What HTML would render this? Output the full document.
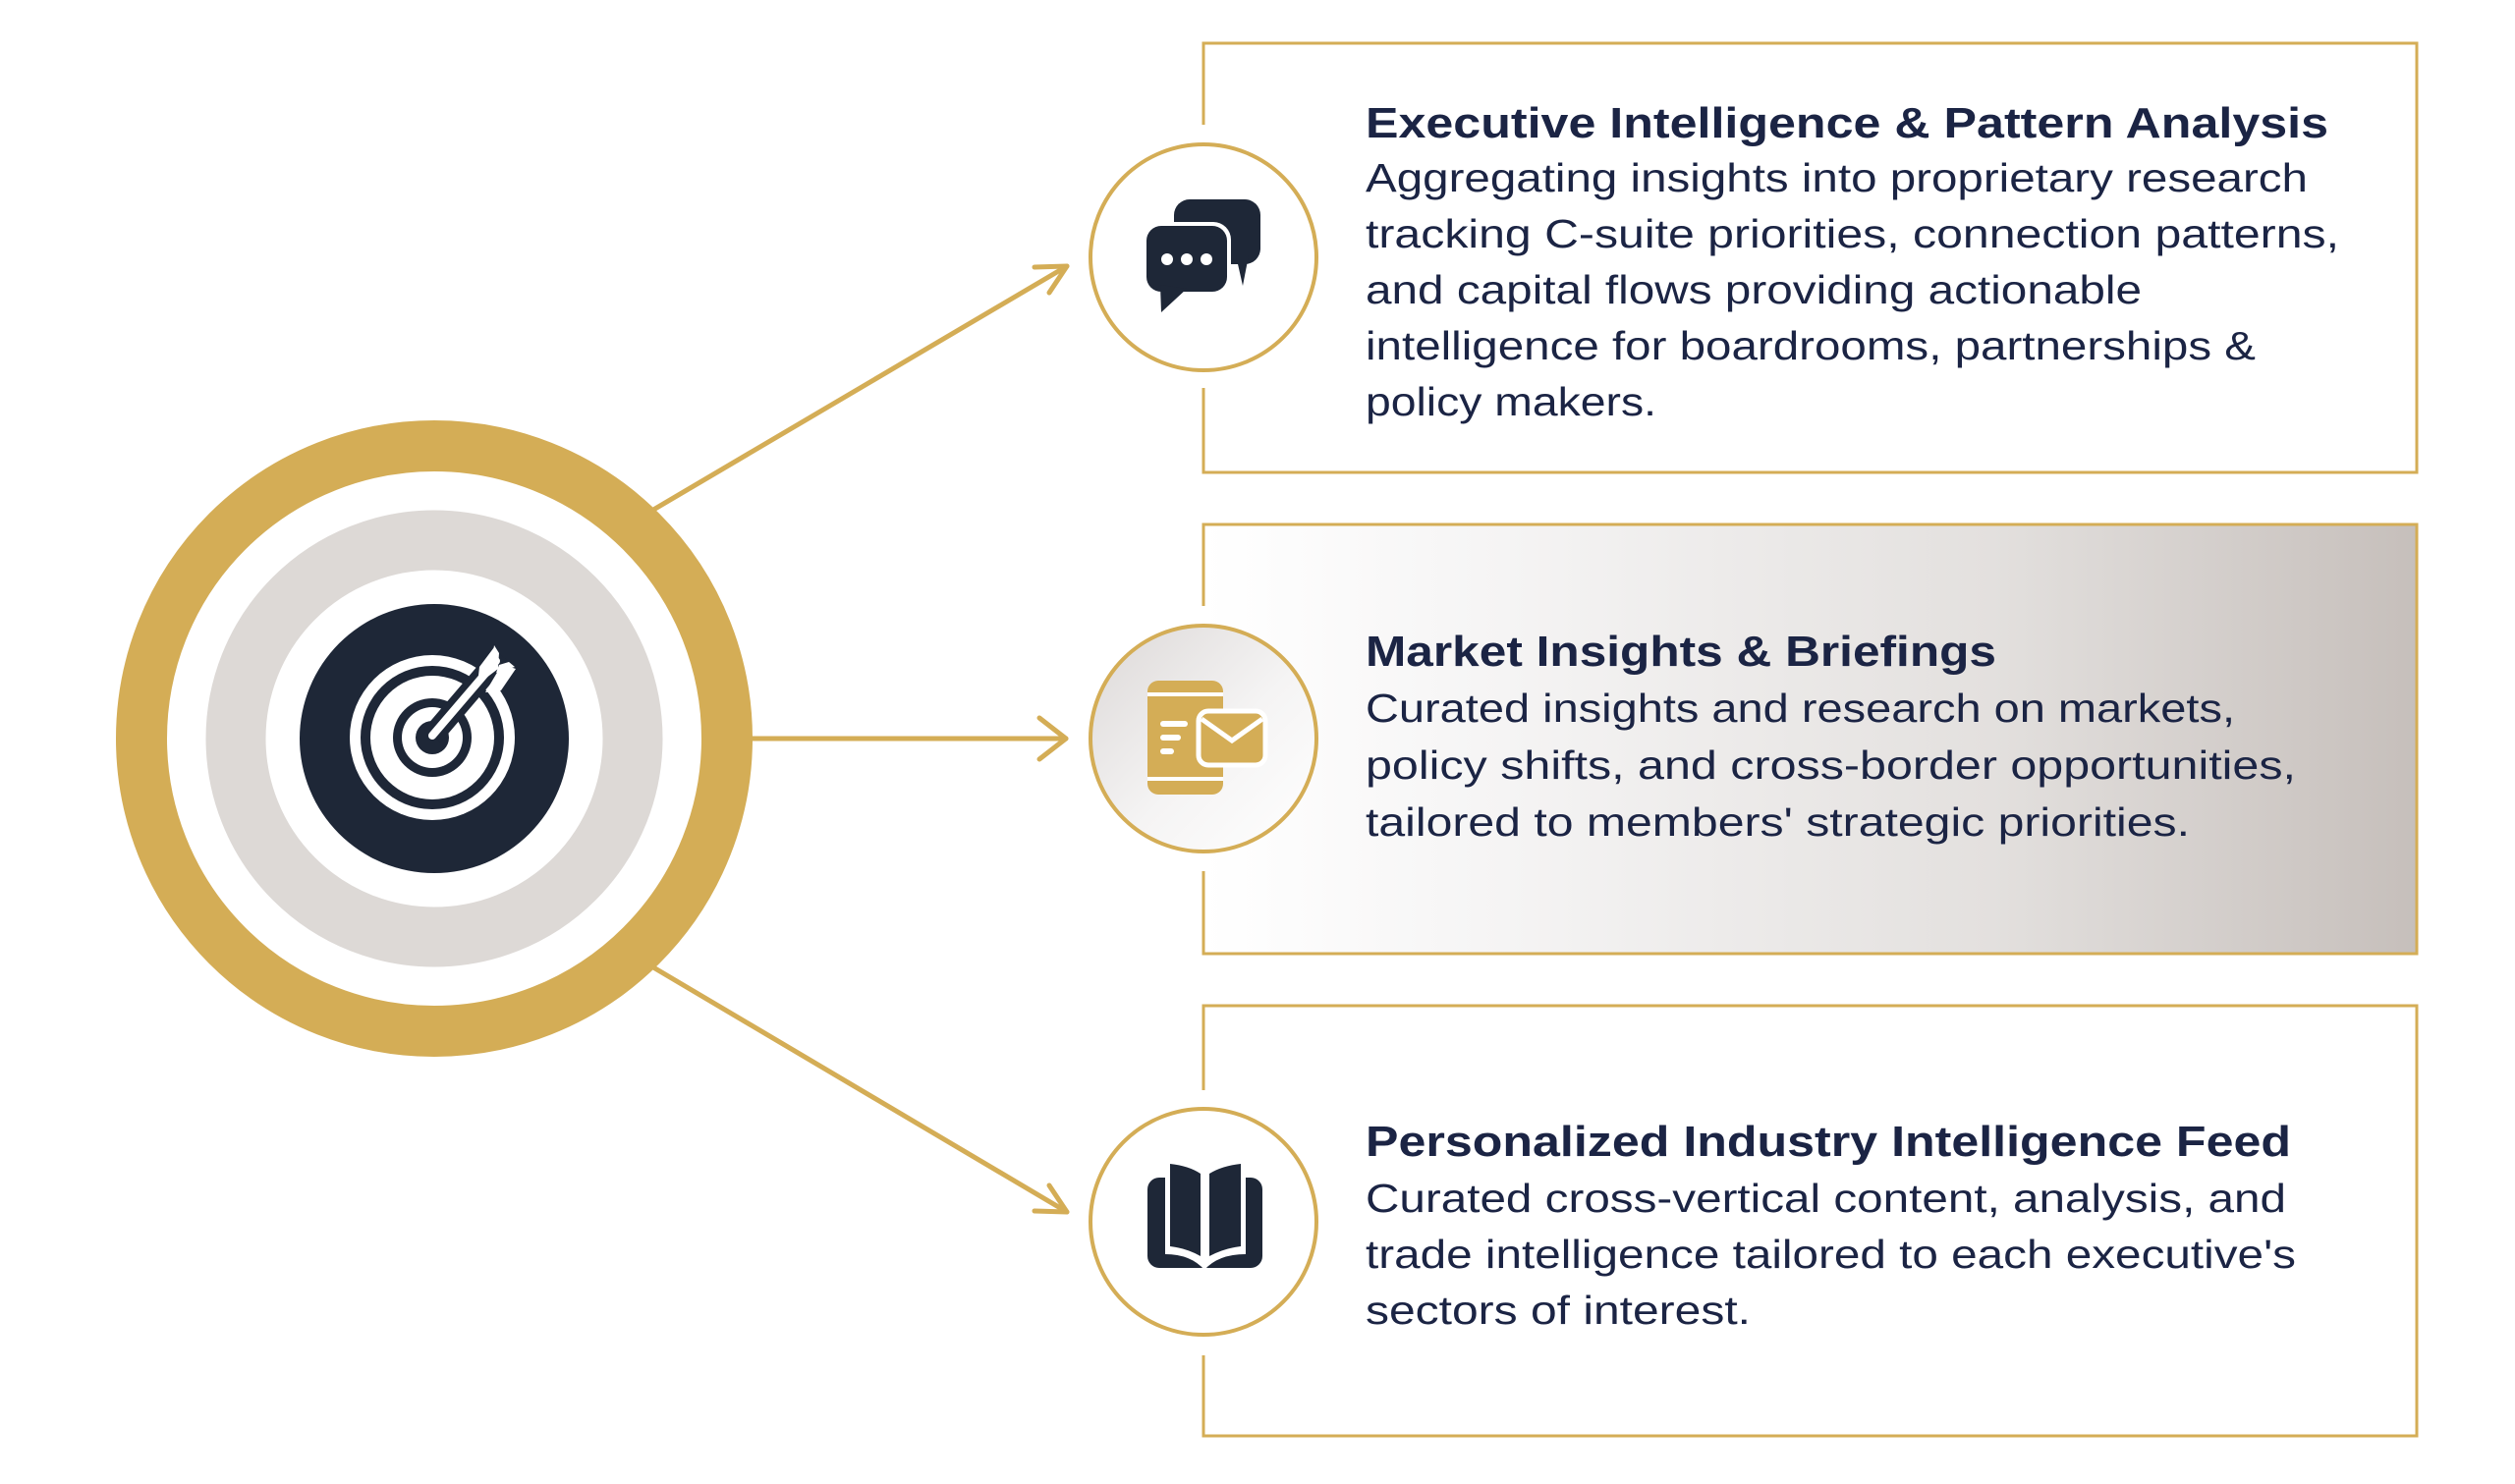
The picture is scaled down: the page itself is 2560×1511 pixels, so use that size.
<!DOCTYPE html>
<html><head><meta charset="utf-8"><style>
html,body{margin:0;padding:0;background:#fff;}
svg{display:block;}
text{font-family:"Liberation Sans",sans-serif;fill:#1b2444;}
.t{font-weight:bold;font-size:44px;}
.b{font-size:41px;}
</style></head><body>
<svg width="2560" height="1511" viewBox="0 0 2560 1511" xmlns="http://www.w3.org/2000/svg">
<defs>
<linearGradient id="bg2" x1="0" y1="0" x2="1" y2="0">
<stop offset="0" stop-color="#ffffff"/>
<stop offset="0.25" stop-color="#f5f4f4"/>
<stop offset="0.65" stop-color="#e3e0de"/>
<stop offset="1" stop-color="#c6bfbb"/>
</linearGradient>
<linearGradient id="cg2" x1="0" y1="0" x2="1" y2="1">
<stop offset="0" stop-color="#dcd8d7"/>
<stop offset="0.55" stop-color="#f5f4f4"/>
<stop offset="1" stop-color="#ffffff"/>
</linearGradient>
</defs>
<g fill="none" stroke="#d4ad56" stroke-width="3">
<path d="M1225 127 V44 H2460 V481 H1225 V395"/>
<rect x="1225" y="534" width="1235" height="437" fill="url(#bg2)" stroke="none"/>
<path d="M1225 617 V534 H2460 V971 H1225 V887"/>
<path d="M1225 1110 V1024 H2460 V1462 H1225 V1380"/>
</g>
<circle cx="1225" cy="262" r="115" fill="#fff" stroke="#d4ad56" stroke-width="4"/>
<circle cx="1225" cy="752" r="115" fill="url(#cg2)" stroke="#d4ad56" stroke-width="4"/>
<circle cx="1225" cy="1244" r="115" fill="#fff" stroke="#d4ad56" stroke-width="4"/>

<g fill="#1e2737">
<rect x="1195" y="203" width="88" height="66" rx="16"/>
<path d="M1258 260 L1265 291 L1271 260 Z"/>
<rect x="1163" y="226" width="90" height="75" rx="18" fill="#fff"/>
<rect x="1167" y="230" width="82" height="67" rx="15"/>
<path d="M1181 290 L1182 318 L1208 294 Z"/>
</g>
<g fill="#fff"><circle cx="1188" cy="264" r="6"/><circle cx="1208" cy="264" r="6"/><circle cx="1228" cy="264" r="6"/></g>

<g transform="translate(0,-3)">
<rect x="1168" y="696" width="77" height="116" rx="11" fill="#d4ad56"/>
<g stroke="#fff" stroke-width="4" fill="none">
<line x1="1168" y1="710" x2="1245" y2="710"/>
<line x1="1168" y1="796" x2="1245" y2="796"/>
</g>
<g stroke="#fff" stroke-width="6" stroke-linecap="round">
<line x1="1184" y1="740" x2="1206" y2="740"/>
<line x1="1184" y1="754" x2="1199" y2="754"/>
<line x1="1184" y1="768" x2="1192" y2="768"/>
</g>
<rect x="1220" y="727" width="68" height="55" rx="10" fill="#d4ad56" stroke="#fff" stroke-width="5"/>
<path d="M1223 735 L1254 757 L1285 735" fill="none" stroke="#fff" stroke-width="5"/>
</g>

<g transform="translate(0,-5)">
<rect x="1168" y="1204" width="117" height="92" rx="12" fill="#1e2737"/>
<path d="M1186 1187 V1282 Q1212 1282 1226 1298 Q1240 1282 1268 1282 V1187 Z" fill="#fff"/>
<path d="M1191 1190 Q1210 1192 1222 1200 V1284 Q1208 1276 1191 1274 Z" fill="#1e2737"/>
<path d="M1263 1190 Q1244 1192 1231 1200 V1284 Q1246 1276 1263 1274 Z" fill="#1e2737"/>
</g>

<g stroke="#d4ad56" stroke-width="5" fill="none" stroke-linecap="round" stroke-linejoin="round">
<line x1="660" y1="522" x2="1086" y2="271"/>
<polyline points="1053,272 1086,271 1068,298"/>
<line x1="760" y1="752" x2="1085" y2="752"/>
<polyline points="1058,731 1085,752 1058,773"/>
<line x1="660" y1="982" x2="1086" y2="1234"/>
<polyline points="1053,1233 1086,1234 1068,1207"/>
</g>

<g transform="translate(0,-3)">
<circle cx="442" cy="755" r="298" fill="none" stroke="#d4ad56" stroke-width="52"/>
<circle cx="442" cy="755" r="202" fill="none" stroke="#ddd9d6" stroke-width="61"/>
<circle cx="442" cy="755" r="137" fill="#1e2737"/>
<circle cx="440" cy="754" r="84" fill="#fff"/>
<circle cx="440" cy="754" r="73" fill="#1e2737"/>
<circle cx="440" cy="754" r="63" fill="#fff"/>
<circle cx="440" cy="754" r="40" fill="#1e2737"/>
<circle cx="440" cy="754" r="31" fill="#fff"/>
<circle cx="440" cy="754" r="17" fill="#1e2737"/>
<line x1="440" y1="752" x2="510" y2="670" stroke="#1e2737" stroke-width="22"/>
<line x1="440" y1="752" x2="505" y2="676" stroke="#fff" stroke-width="8" stroke-linecap="round"/>
<path d="M486 700 L488 682 L503 662 L507 668 L507 684 Z M494 708 L510 706 L525 684 L519 682 L507 686 Z" fill="#fff"/>
<path d="M500 680 L503 660 L508 668 L507 682 Z M505 688 L524 682 L518 677 L508 680 Z" fill="#fff"/>
</g>

<text class="t" x="1390" y="140" textLength="980" lengthAdjust="spacingAndGlyphs">Executive Intelligence &amp; Pattern Analysis</text>
<text class="b" x="1390" y="195" textLength="959" lengthAdjust="spacingAndGlyphs">Aggregating insights into proprietary research</text>
<text class="b" x="1390" y="252" textLength="991" lengthAdjust="spacingAndGlyphs">tracking C-suite priorities, connection patterns,</text>
<text class="b" x="1390" y="309" textLength="790" lengthAdjust="spacingAndGlyphs">and capital flows providing actionable</text>
<text class="b" x="1390" y="366" textLength="906" lengthAdjust="spacingAndGlyphs">intelligence for boardrooms, partnerships &amp;</text>
<text class="b" x="1390" y="423" textLength="296" lengthAdjust="spacingAndGlyphs">policy makers.</text>

<text class="t" x="1390" y="678" textLength="642" lengthAdjust="spacingAndGlyphs">Market Insights &amp; Briefings</text>
<text class="b" x="1390" y="735" textLength="885" lengthAdjust="spacingAndGlyphs">Curated insights and research on markets,</text>
<text class="b" x="1390" y="793" textLength="947" lengthAdjust="spacingAndGlyphs">policy shifts, and cross-border opportunities,</text>
<text class="b" x="1390" y="851" textLength="839" lengthAdjust="spacingAndGlyphs">tailored to members' strategic priorities.</text>

<text class="t" x="1390" y="1177" textLength="942" lengthAdjust="spacingAndGlyphs">Personalized Industry Intelligence Feed</text>
<text class="b" x="1390" y="1234" textLength="937" lengthAdjust="spacingAndGlyphs">Curated cross-vertical content, analysis, and</text>
<text class="b" x="1390" y="1291" textLength="947" lengthAdjust="spacingAndGlyphs">trade intelligence tailored to each executive's</text>
<text class="b" x="1390" y="1348" textLength="392" lengthAdjust="spacingAndGlyphs">sectors of interest.</text>
</svg>
</body></html>
